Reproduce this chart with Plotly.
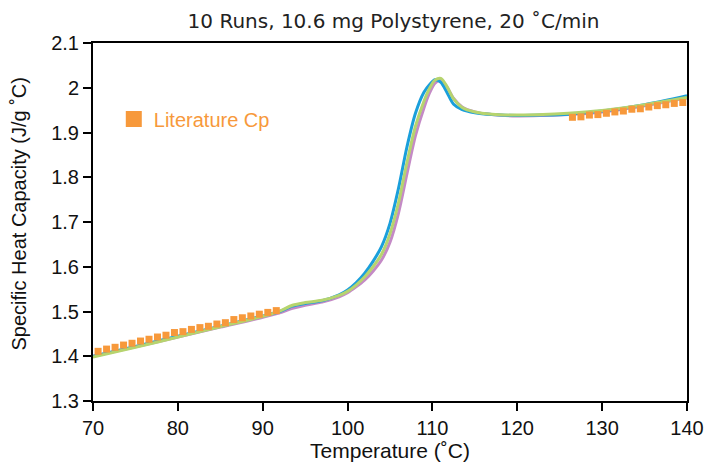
import plotly.graph_objects as go

# --- Data -------------------------------------------------------------
temp_blue = [70, 75, 80, 85, 90, 92, 93.5, 95, 97, 99, 100, 101, 102, 103, 104, 105, 106, 107, 108, 109,
             109.7, 110.3, 111, 111.7, 112.5, 113.5, 115, 117, 120, 123, 126, 130, 135, 140]
cp_blue = [1.400, 1.422, 1.445, 1.467, 1.490, 1.500, 1.512, 1.518, 1.524, 1.537, 1.548, 1.564, 1.585, 1.612,
           1.645, 1.697, 1.775, 1.868, 1.943, 1.990, 2.008, 2.018, 2.012, 1.990, 1.963, 1.951, 1.944, 1.940,
           1.938, 1.939, 1.941, 1.948, 1.962, 1.982]

temp_green = [70, 75, 80, 85, 90, 92, 93.5, 95, 97, 99, 100, 101, 102, 103, 104, 105, 106, 107, 108, 109,
              109.7, 110.3, 111, 111.7, 112.5, 113.5, 115, 117, 120, 123, 126, 130, 135, 140]
cp_green = [1.398, 1.420, 1.443, 1.466, 1.489, 1.501, 1.514, 1.520, 1.525, 1.536, 1.545, 1.559, 1.577, 1.600,
            1.628, 1.674, 1.743, 1.833, 1.914, 1.970, 2.000, 2.017, 2.021, 2.003, 1.975, 1.956, 1.946, 1.941,
            1.939, 1.940, 1.943, 1.949, 1.962, 1.978]

temp_purple = [70, 75, 80, 85, 90, 92, 93.5, 95, 97, 99, 100, 101, 102, 103, 104, 105, 106, 107, 108, 109,
               109.7, 110.3, 111, 111.7, 112.5, 113.5, 115, 117, 120, 123, 126, 130, 135, 140]
cp_purple = [1.400, 1.421, 1.443, 1.465, 1.487, 1.497, 1.507, 1.514, 1.521, 1.533, 1.542, 1.555, 1.570, 1.590,
             1.615, 1.655, 1.720, 1.808, 1.893, 1.955, 1.990, 2.010, 2.017, 2.002, 1.976, 1.957, 1.946, 1.940,
             1.937, 1.938, 1.940, 1.946, 1.960, 1.977]

lit_temp_low = [70.6, 71.6, 72.6, 73.6, 74.6, 75.6, 76.6, 77.6, 78.6, 79.6, 80.6, 81.6, 82.6, 83.6, 84.6,
                85.6, 86.6, 87.6, 88.6, 89.6, 90.6, 91.6]
lit_cp_low = [1.411, 1.416, 1.420, 1.425, 1.429, 1.434, 1.438, 1.443, 1.447, 1.453, 1.455, 1.460, 1.464,
              1.467, 1.472, 1.475, 1.482, 1.486, 1.490, 1.494, 1.498, 1.502]
lit_temp_high = [126.5, 127.5, 128.5, 129.5, 130.5, 131.5, 132.5, 133.5, 134.5, 135.5, 136.5, 137.5, 138.5, 139.5]
lit_cp_high = [1.934, 1.935, 1.939, 1.940, 1.943, 1.946, 1.948, 1.952, 1.953, 1.957, 1.960, 1.962, 1.965, 1.967]

x_ticks = [70, 80, 90, 100, 110, 120, 130, 140]
y_ticks = [1.3, 1.4, 1.5, 1.6, 1.7, 1.8, 1.9, 2.0, 2.1]
y_tick_text = ["1.3", "1.4", "1.5", "1.6", "1.7", "1.8", "1.9", "2", "2.1"]

title_text = "10 Runs, 10.6 mg Polystyrene, 20 \u02daC/min"
x_title = "Temperature (\u02daC)"
y_title = "Specific Heat Capacity (J/g \u02daC)"
legend_name = "Literature Cp"

# --- Styles -----------------------------------------------------------
BLUE = "#1A9FDB"
GREEN = "#B6D46E"
PURPLE = "#C48AC6"
ORANGE = "#F7993B"
SANS = "Liberation Sans"
TXT = "#111111"

fig = go.Figure()
for tx, cy, col in [(temp_purple, cp_purple, PURPLE), (temp_blue, cp_blue, BLUE), (temp_green, cp_green, GREEN)]:
    fig.add_trace(go.Scatter(x=tx, y=cy, mode="lines", line=dict(color=col, width=3, shape="spline", smoothing=0.8),
                             showlegend=False, hoverinfo="skip"))

fig.add_trace(go.Scatter(x=lit_temp_low + [None] + lit_temp_high, y=lit_cp_low + [None] + lit_cp_high,
                         mode="markers", marker=dict(symbol="square", size=7, color=ORANGE),
                         showlegend=False, cliponaxis=False))
fig.add_trace(go.Scatter(x=[None], y=[None], mode="markers", name=legend_name,
                         marker=dict(symbol="square", size=18, color=ORANGE), showlegend=True))

fig.update_layout(
    width=709, height=464,
    margin=dict(l=93, r=22, t=43, b=63, autoexpand=False),
    paper_bgcolor="white", plot_bgcolor="white",
    title=dict(text=title_text, x=0.555, xanchor="center", y=0.955, yanchor="middle",
               font=dict(family="DejaVu Sans", size=20, color="#222222")),
    legend=dict(x=0.035, y=0.788, xanchor="left", yanchor="middle", bgcolor="rgba(0,0,0,0)",
                font=dict(family=SANS, size=20, color=ORANGE), itemsizing="trace"),
    xaxis=dict(range=[70, 140], tickvals=x_ticks, ticks="outside", ticklen=8, tickwidth=2, tickcolor="black",
               showline=True, linecolor="black", linewidth=2, mirror=True, showgrid=False, zeroline=False,
               automargin=False, tickfont=dict(family=SANS, size=20, color=TXT),
               title=dict(text=x_title, font=dict(family=SANS, size=21, color=TXT), standoff=2)),
    yaxis=dict(range=[1.3, 2.1], tickvals=y_ticks, ticktext=y_tick_text, ticks="outside", ticklen=8, tickwidth=2,
               tickcolor="black", showline=True, linecolor="black", linewidth=2, mirror=True, showgrid=False,
               zeroline=False, automargin=False, tickfont=dict(family=SANS, size=20, color=TXT)),
    annotations=[dict(text=y_title, xref="paper", yref="paper", x=-0.124, y=0.522, xanchor="center",
                      yanchor="middle", textangle=-90, showarrow=False,
                      font=dict(family=SANS, size=20, color=TXT))],
)

fig.write_html("out.html")
